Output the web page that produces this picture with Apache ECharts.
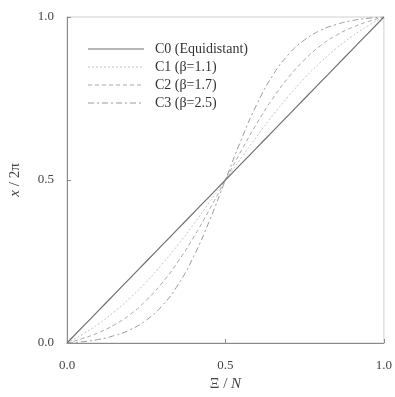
<!DOCTYPE html>
<html>
<head>
<meta charset="utf-8">
<script src="https://cdn.jsdelivr.net/npm/echarts@6/dist/echarts.min.js"></script>
<style>
  html, body { margin: 0; padding: 0; background: #fff; }
  #chart { width: 395px; height: 397px; }
</style>
</head>
<body>
<div id="chart"></div>
<script>
// Normalised grid index ξ/N
const xi = [0, 0.05, 0.1, 0.15, 0.2, 0.25, 0.3, 0.35, 0.4, 0.45, 0.5,
            0.55, 0.6, 0.65, 0.7, 0.75, 0.8, 0.85, 0.9, 0.95, 1.0];

// Node position x/2π for each distribution
const c0 = [0, 0.05, 0.1, 0.15, 0.2, 0.25, 0.3, 0.35, 0.4, 0.45, 0.5,
            0.55, 0.6, 0.65, 0.7, 0.75, 0.8, 0.85, 0.9, 0.95, 1.0];
const c1 = [0, 0.027, 0.059, 0.096, 0.139, 0.187, 0.242, 0.301, 0.365, 0.432, 0.5,
            0.568, 0.635, 0.699, 0.758, 0.813, 0.861, 0.904, 0.941, 0.973, 1.0];
const c2 = [0, 0.014, 0.032, 0.056, 0.088, 0.131, 0.184, 0.249, 0.325, 0.410, 0.5,
            0.590, 0.675, 0.751, 0.816, 0.869, 0.912, 0.944, 0.968, 0.986, 1.0];
const c3 = [0, 0.004, 0.011, 0.023, 0.041, 0.070, 0.114, 0.178, 0.266, 0.376, 0.5,
            0.624, 0.734, 0.822, 0.886, 0.930, 0.959, 0.977, 0.989, 0.996, 1.0];

const seriesNames = ['C0 (Equidistant)', 'C1 (β=1.1)', 'C2 (β=1.7)', 'C3 (β=2.5)'];
const tickValues = [0, 0.5, 1.0];

const font = 'Liberation Serif';
const pairs = ys => xi.map((x, i) => [x, ys[i]]);

const styles = [
  { color: '#6f6f6f', type: 'solid', width: 1.2 },
  { color: '#c4c4c4', type: [2, 2], width: 1 },
  { color: '#a8a8a8', type: [4, 3], width: 1 },
  { color: '#9a9a9a', type: [6, 3, 2, 3], width: 1 }
];
const data = [c0, c1, c2, c3];

const chart = echarts.init(document.getElementById('chart'), null, { renderer: 'canvas' });
chart.setOption({
  animation: false,
  backgroundColor: '#ffffff',
  grid: {
    left: 63, right: 10, top: 17, bottom: 54,
    show: true, borderColor: '#d0d0d0', borderWidth: 1
  },
  legend: {
    show: true,
    orient: 'vertical',
    left: 82, top: 37,
    itemWidth: 56, itemHeight: 14, itemGap: 4,
    itemStyle: { opacity: 0 },
    lineStyle: { opacity: 0.5 },
    textStyle: { fontFamily: font, fontSize: 14, color: '#333', padding: [0, 0, 0, 6] },
    data: seriesNames
  },
  xAxis: {
    type: 'value', min: 0, max: 1, interval: 0.5,
    name: '{n|Ξ / }{i|N}',
    nameLocation: 'middle', nameGap: 32,
    nameTextStyle: {
      rich: {
        n: { fontFamily: font, fontSize: 15, color: '#444' },
        i: { fontFamily: font, fontSize: 15, color: '#444', fontStyle: 'italic' }
      }
    },
    axisLine: { lineStyle: { color: '#8a8a8a' } },
    axisTick: { inside: true, length: 4, lineStyle: { color: '#8a8a8a' } },
    axisLabel: {
      fontFamily: font, fontSize: 13, color: '#444', margin: 16,
      formatter: v => tickValues.includes(v) ? v.toFixed(1) : ''
    },
    splitLine: { show: false }
  },
  yAxis: {
    type: 'value', min: 0, max: 1, interval: 0.5,
    name: '{i|x}{n| / 2π}',
    nameLocation: 'middle', nameGap: 44, nameRotate: 90,
    nameTextStyle: {
      rich: {
        n: { fontFamily: font, fontSize: 15, color: '#444' },
        i: { fontFamily: font, fontSize: 15, color: '#444', fontStyle: 'italic' }
      }
    },
    axisLine: { lineStyle: { color: '#8a8a8a' } },
    axisTick: { inside: true, length: 4, lineStyle: { color: '#8a8a8a' } },
    axisLabel: {
      fontFamily: font, fontSize: 13, color: '#444', margin: 13,
      formatter: v => tickValues.includes(v) ? v.toFixed(1) : ''
    },
    splitLine: { show: false }
  },
  series: seriesNames.map((name, k) => ({
    name: name,
    type: 'line',
    data: pairs(data[k]),
    smooth: true,
    symbol: 'none',
    z: 4 - k,
    itemStyle: { color: styles[k].color },
    lineStyle: { color: styles[k].color, type: styles[k].type, width: styles[k].width }
  }))
});
</script>
</body>
</html>
